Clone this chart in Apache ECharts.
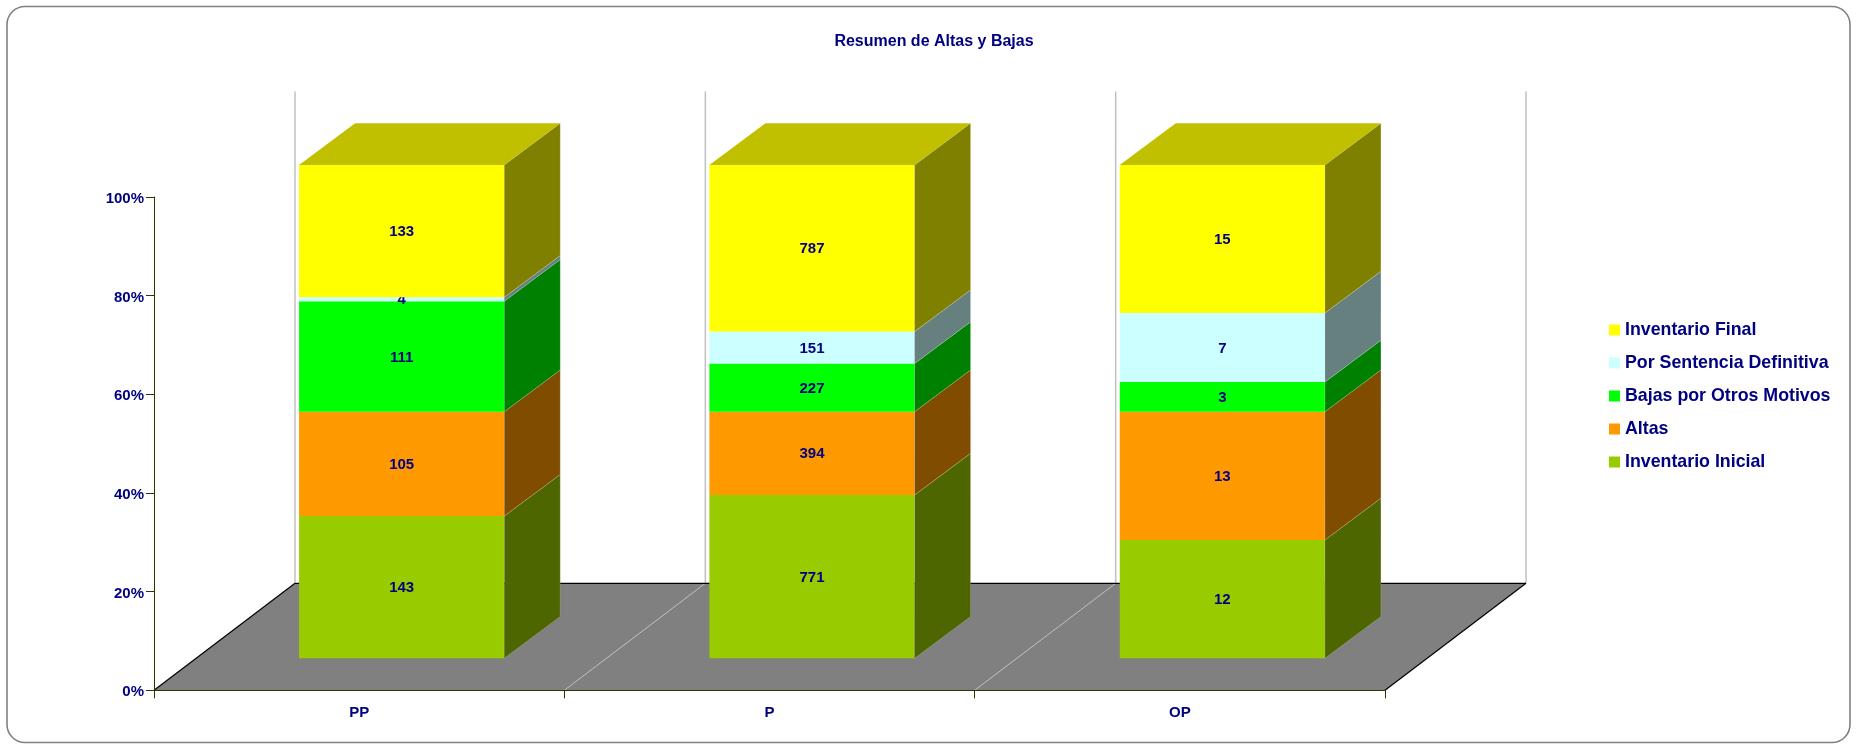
<!DOCTYPE html>
<html>
<head>
<meta charset="utf-8">
<style>html,body{margin:0;padding:0;background:#fff}#c{width:1860px;height:744px}</style>
<script src="https://cdn.jsdelivr.net/npm/echarts@6/dist/echarts.min.js"></script>
</head>
<body>
<div id="c"></div>
<script>
const categories = ['PP', 'P', 'OP'];
const inventarioInicial = [143, 771, 12];
const altas = [105, 394, 13];
const bajasOtros = [111, 227, 3];
const porSentencia = [4, 151, 7];
const inventarioFinal = [133, 787, 15];
const seriesNames = ['Inventario Inicial', 'Altas', 'Bajas por Otros Motivos', 'Por Sentencia Definitiva', 'Inventario Final'];
const seriesValues = [inventarioInicial, altas, bajasOtros, porSentencia, inventarioFinal];
const frontColors = ['#99CC00', '#FF9900', '#00FF00', '#CCFFFF', '#FFFF00'];
const sideColors = ['#4D6600', '#804C00', '#008000', '#668080', '#808000'];
const topColor = '#C0C000';

const NAVY = '#000080', FONT = '"Liberation Sans", Arial, sans-serif';
const FLOOR_DX = 141, FLOOR_DY = 107, WALL_EXTRA = 105.5;
const BAR_DX = 42.5, BAR_DY = 32, BAR_DEPTH_X = 56, BAR_DEPTH_Y = 41.7;

const totals = categories.map((_, i) => seriesValues.reduce((s, v) => s + v[i], 0));
const running = categories.map(() => 0);

function renderFloor(params, api) {
  const n = categories.length;
  const band = api.size([1, 0])[0];
  const origin = api.coord([0, 0]);
  const x0 = origin[0] - band / 2, y0 = origin[1];
  const xEnd = x0 + band * n;
  const top = api.coord([0, 100])[1] - WALL_EXTRA;
  const kids = [{
    type: 'polygon',
    shape: { points: [[x0, y0], [xEnd, y0], [xEnd + FLOOR_DX, y0 - FLOOR_DY], [x0 + FLOOR_DX, y0 - FLOOR_DY]] },
    style: { fill: '#808080', stroke: null }
  }];
  for (let i = 0; i <= n; i++) {
    const x = x0 + band * i;
    kids.push({ type: 'line', shape: { x1: x + FLOOR_DX, y1: top, x2: x + FLOOR_DX, y2: y0 - FLOOR_DY },
      style: { stroke: '#C0C0C0', lineWidth: 1.5 } });
    if (i > 0 && i < n) kids.push({ type: 'line', shape: { x1: x, y1: y0, x2: x + FLOOR_DX, y2: y0 - FLOOR_DY },
      style: { stroke: '#C0C0C0', lineWidth: 1 } });
  }
  const edge = { stroke: '#000000', lineWidth: 1.2 };
  kids.push({ type: 'line', shape: { x1: x0, y1: y0, x2: x0 + FLOOR_DX, y2: y0 - FLOOR_DY }, style: edge });
  kids.push({ type: 'line', shape: { x1: xEnd, y1: y0, x2: xEnd + FLOOR_DX, y2: y0 - FLOOR_DY }, style: edge });
  kids.push({ type: 'line', shape: { x1: x0 + FLOOR_DX, y1: y0 - FLOOR_DY, x2: xEnd + FLOOR_DX, y2: y0 - FLOOR_DY }, style: edge });
  return { type: 'group', children: kids };
}

function makeRender(idx, isTop) {
  return function (params, api) {
    const cat = api.value(0);
    const a = api.coord([cat, api.value(1)]);
    const b = api.coord([cat, api.value(2)]);
    const w = api.size([1, 0])[0] * 0.5;
    const cx = a[0] + BAR_DX;
    const xl = cx - w / 2, xr = cx + w / 2;
    const yb = a[1] - BAR_DY, yt = b[1] - BAR_DY;
    const kids = [
      { type: 'rect', shape: { x: xl, y: yt, width: w, height: yb - yt }, style: { fill: frontColors[idx] } },
      { type: 'polygon',
        shape: { points: [[xr, yb], [xr + BAR_DEPTH_X, yb - BAR_DEPTH_Y], [xr + BAR_DEPTH_X, yt - BAR_DEPTH_Y], [xr, yt]] },
        style: { fill: sideColors[idx], stroke: 'rgba(255,255,255,0.22)', lineWidth: 0.8 } }
    ];
    if (isTop) kids.push({ type: 'polygon',
      shape: { points: [[xl, yt], [xr, yt], [xr + BAR_DEPTH_X, yt - BAR_DEPTH_Y], [xl + BAR_DEPTH_X, yt - BAR_DEPTH_Y]] },
      style: { fill: topColor } });
    kids.push({ type: 'text', z2: 50, style: { text: String(api.value(3)), x: cx, y: (yb + yt) / 2 + 1,
      align: 'center', verticalAlign: 'middle', fill: NAVY, font: 'bold 15px ' + FONT } });
    return { type: 'group', children: kids };
  };
}

const barSeries = seriesNames.map((name, idx) => {
  const data = categories.map((_, i) => {
    const start = running[i] / totals[i] * 100;
    running[i] += seriesValues[idx][i];
    const end = running[i] / totals[i] * 100;
    return [i, start, end, seriesValues[idx][i]];
  });
  return { name, type: 'custom', z: 2 + idx, clip: false, encode: { x: 0, y: [1, 2] },
    itemStyle: { color: frontColors[idx] }, renderItem: makeRender(idx, idx === seriesNames.length - 1), data };
});

const chart = echarts.init(document.getElementById('c'), null, { renderer: 'canvas' });
chart.setOption({
  animation: false,
  backgroundColor: '#ffffff',
  title: { text: 'Resumen de Altas y Bajas', left: 934, top: 34, padding: 0, textAlign: 'center',
    textStyle: { color: NAVY, fontFamily: FONT, fontWeight: 'bold', fontSize: 16 } },
  graphic: [{ type: 'rect', z: -10, shape: { x: 7, y: 6.5, width: 1843, height: 736, r: 18 },
    style: { fill: '#ffffff', stroke: '#808080', lineWidth: 1.6 } }],
  grid: { left: 154, top: 197, width: 1231, height: 493.3 },
  legend: { orient: 'vertical', left: 1604, top: 316, selectedMode: false, icon: 'rect',
    itemWidth: 11, itemHeight: 11, itemGap: 15,
    data: seriesNames.slice().reverse(),
    textStyle: { color: NAVY, fontFamily: FONT, fontWeight: 'bold', fontSize: 17.8, lineHeight: 18 } },
  xAxis: { type: 'category', data: categories, z: 10,
    axisLine: { lineStyle: { color: '#333300', width: 1.2 } },
    axisTick: { show: true, length: 8, lineStyle: { color: '#333300' } },
    axisLabel: { color: NAVY, fontFamily: FONT, fontWeight: 'bold', fontSize: 15, margin: 15 },
    splitLine: { show: false } },
  yAxis: { type: 'value', min: 0, max: 100, interval: 20, z: 10,
    axisLine: { show: true, lineStyle: { color: '#333300', width: 1 } },
    axisTick: { show: true, length: 8, lineStyle: { color: '#333300' } },
    axisLabel: { color: NAVY, fontFamily: FONT, fontWeight: 'bold', fontSize: 15, margin: 10, verticalAlign: 'top', padding: [-5.5, 0, 0, 0], formatter: '{value}%' },
    splitLine: { show: false } },
  series: [{ type: 'custom', name: 'floor', z: 1, clip: false, encode: { x: 0, y: 1 }, renderItem: renderFloor, data: [[0, 0]] }].concat(barSeries)
});
</script>
</body>
</html>
